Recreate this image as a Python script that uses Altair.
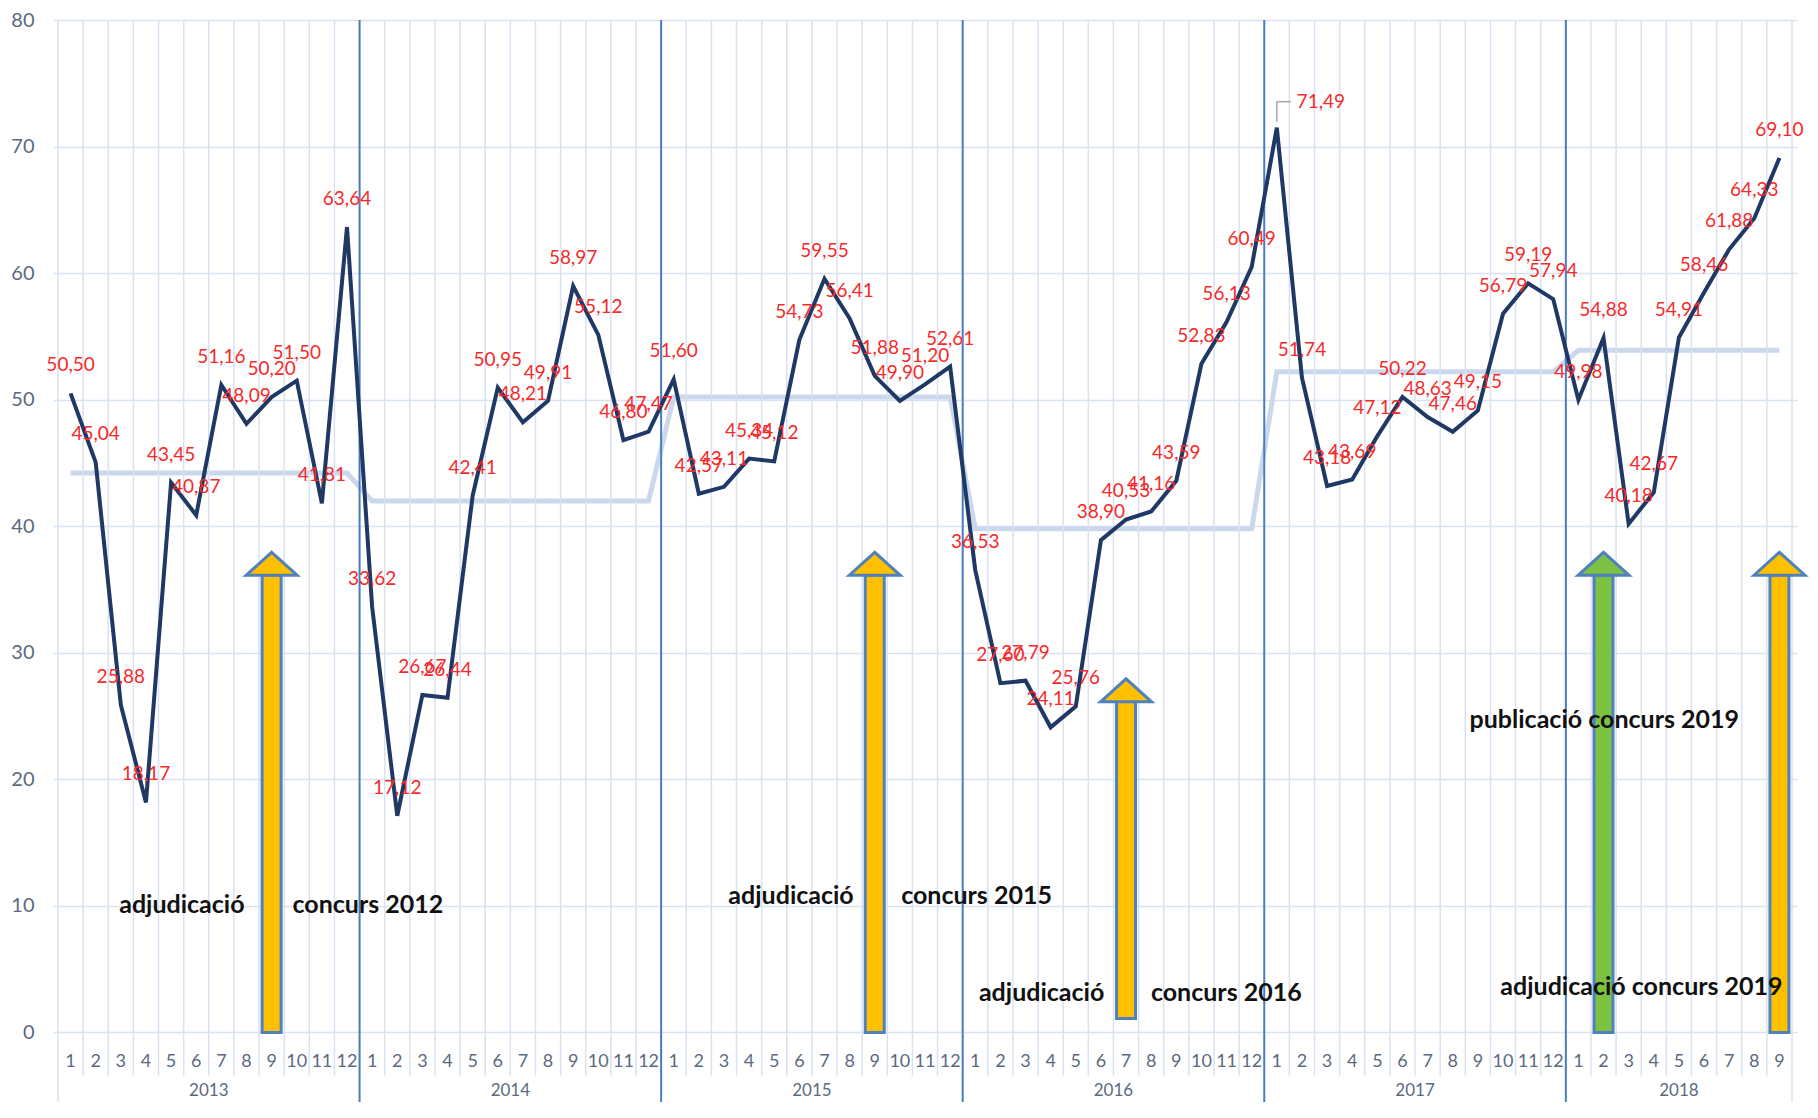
import altair as alt
import pandas as pd

# ---------------- data ----------------
years = [2013, 2014, 2015, 2016, 2017, 2018]
months_in_year = [12, 12, 12, 12, 12, 9]

values = [
    50.50, 45.04, 25.88, 18.17, 43.45, 40.87, 51.16, 48.09, 50.20, 51.50, 41.81, 63.64,
    33.62, 17.12, 26.67, 26.44, 42.41, 50.95, 48.21, 49.91, 58.97, 55.12, 46.80, 47.47,
    51.60, 42.57, 43.11, 45.34, 45.12, 54.73, 59.55, 56.41, 51.88, 49.90, 51.20, 52.61,
    36.53, 27.60, 27.79, 24.11, 25.76, 38.90, 40.53, 41.16, 43.59, 52.83, 56.13, 60.49,
    71.49, 51.74, 43.18, 43.69, 47.12, 50.22, 48.63, 47.46, 49.15, 56.79, 59.19, 57.94,
    49.98, 54.88, 40.18, 42.67, 54.91, 58.46, 61.88, 64.33, 69.10,
]

year_average = [44.2, 42.0, 50.2, 39.8, 52.2, 53.9]

label_position = ["above"] * 69
label_position[48] = "callout"

arrow_year = [2013, 2015, 2016, 2018, 2018]
arrow_month = [9, 9, 7, 2, 9]
arrow_from = [0.0, 0.0, 1.1, 0.0, 0.0]
arrow_to = [37.9, 37.9, 27.9, 37.9, 37.9]
arrow_fill = ["#FFC000", "#FFC000", "#FFC000", "#7DC142", "#FFC000"]

note_text = ["adjudicació", "concurs 2012", "adjudicació", "concurs 2015",
             "adjudicació", "concurs 2016", "publicació concurs 2019",
             "adjudicació concurs 2019"]
note_x = [5.43, 12.83, 29.67, 37.05, 39.64, 46.99, 62.03, 63.51]
note_y = [10.03, 10.03, 10.77, 10.77, 3.11, 3.11, 24.7, 3.57]

# ---------------- tables ----------------
rows = []
k = 0
for yr, n, avg in zip(years, months_in_year, year_average):
    for m in range(1, n + 1):
        rows.append(dict(idx=k + 1, year=yr, month=m, value=values[k],
                         avg=avg, place=label_position[k]))
        k += 1
df = pd.DataFrame(rows)
n_total = len(df)

start_of_year = {}
acc = 0
for yr, n in zip(years, months_in_year):
    start_of_year[yr] = acc
    acc += n

year_df = pd.DataFrame({
    "year": [str(y) for y in years],
    "center": [start_of_year[y] + (n + 1) / 2 for y, n in zip(years, months_in_year)],
})

sep_df = pd.DataFrame({"x": [start_of_year[y] + 0.5 for y in years[1:]]})

grid_df = pd.DataFrame({"x": [i + 0.5 for i in range(n_total + 1)]})
grid_df["edge"] = (grid_df["x"] == 0.5) | (grid_df["x"] == n_total + 0.5)

arrow_df = pd.DataFrame({
    "idx": [start_of_year[y] + m for y, m in zip(arrow_year, arrow_month)],
    "base": arrow_from,
    "tip": arrow_to,
    "fill": arrow_fill,
})

note_df = pd.DataFrame({"text": note_text, "x": note_x, "y": note_y})

# ---------------- scales / styles ----------------
Y_TOP, Y_BOTTOM = 80, -5.5
xs = alt.Scale(domain=[0.5, n_total + 0.5], nice=False, zero=False)
ys = alt.Scale(domain=[Y_BOTTOM, Y_TOP], nice=False, zero=False)
FONT = "Lato"
AXIS_COL = "#5b6a80"
GRID_COL = "#d9e2f1"

yaxis = alt.Axis(values=list(range(0, 81, 10)), grid=True, gridColor=GRID_COL,
                 gridWidth=1.5, domain=False, ticks=False, labelFontSize=20,
                 labelColor=AXIS_COL, labelFont=FONT, labelPadding=19, title=None)


def X(field):
    return alt.X(field, type="quantitative", scale=xs, axis=None)


def Y(field):
    return alt.Y(field, type="quantitative", scale=ys, axis=yaxis)


# vertical month grid lines
vgrid = alt.Chart(grid_df).transform_calculate(
    top=str(Y_TOP), bot=f"datum.edge ? {Y_BOTTOM} : -3.4"
).mark_rule(color=GRID_COL, strokeWidth=1.5).encode(
    x=X("x"), y=Y("top"), y2="bot:Q",
)

# year separators
seps = alt.Chart(sep_df).transform_calculate(
    top=str(Y_TOP), bot=str(Y_BOTTOM)
).mark_rule(color="#4a7cc0", strokeWidth=2).encode(
    x=X("x"), y=Y("top"), y2="bot:Q",
)

# yearly average line
avg_line = alt.Chart(df).mark_line(color="#cbd8ec", strokeWidth=5).encode(
    x=X("idx"), y=Y("avg"),
)

# arrows
shaft = alt.Chart(arrow_df).transform_calculate(
    top="datum.tip - 1.75"
).mark_bar(size=19, stroke="#4f81bd", strokeWidth=3).encode(
    x=X("idx"), y=Y("base"), y2="top:Q",
    fill=alt.Fill("fill:N", scale=None),
)
head = alt.Chart(arrow_df).transform_calculate(
    mid="datum.tip - 0.87"
).mark_point(shape="M-1,0.45L0,-0.45L1,0.45Z", size=2600, filled=True,
             stroke="#4f81bd", strokeWidth=3, opacity=1).encode(
    x=X("idx"), y=Y("mid"),
    fill=alt.Fill("fill:N", scale=None),
)

# main series
main_line = alt.Chart(df).mark_line(color="#1f3864", strokeWidth=4).encode(
    x=X("idx"), y=Y("value"),
)

lbl_calc = "replace(format(datum.value, '.2f'), '.', ',')"
labels_above = alt.Chart(df).transform_filter(
    "datum.place == 'above'"
).transform_calculate(lbl=lbl_calc).mark_text(
    dy=-28, fontSize=19, font=FONT, color="#f52a2a"
).encode(
    x=X("idx"), y=Y("value"), text="lbl:N",
)
labels_callout = alt.Chart(df).transform_filter(
    "datum.place == 'callout'"
).transform_calculate(lbl=lbl_calc).mark_text(
    dx=44, dy=-26, fontSize=19, font=FONT, color="#f52a2a"
).encode(
    x=X("idx"), y=Y("value"), text="lbl:N",
)
leader_v = alt.Chart(df).transform_filter("datum.place == 'callout'").mark_rule(
    color="#a6a6a6", strokeWidth=1.5, yOffset=-6, y2Offset=-26
).encode(
    x=X("idx"), x2="idx:Q", y=Y("value"), y2="value:Q",
)
leader_h = alt.Chart(df).transform_filter("datum.place == 'callout'").mark_rule(
    color="#a6a6a6", strokeWidth=1.5, yOffset=-26, y2Offset=-26, x2Offset=14
).encode(
    x=X("idx"), x2="idx:Q", y=Y("value"), y2="value:Q",
)

# category axis (months and years)
month_labels = alt.Chart(df).transform_calculate(ly="-2.36").mark_text(
    fontSize=18, font=FONT, color=AXIS_COL
).encode(
    x=X("idx"), y=Y("ly"), text=alt.Text("month:N"),
)
year_labels = alt.Chart(year_df).transform_calculate(ly="-4.6").mark_text(
    fontSize=17, font=FONT, color=AXIS_COL
).encode(
    x=X("center"), y=Y("ly"), text="year:N",
)

notes = alt.Chart(note_df).mark_text(
    fontSize=25, font=FONT, fontWeight="bold", color="#111111"
).encode(
    x=X("x"), y=Y("y"), text="text:N",
)

chart = alt.layer(
    avg_line, vgrid, seps, shaft, head, main_line,
    labels_above, labels_callout, leader_v, leader_h,
    month_labels, year_labels, notes,
).properties(
    width=1744, height=1082,
    padding={"left": 45, "top": 12, "right": 13, "bottom": 0},
    autosize=alt.AutoSizeParams(type="none"),
    background="white",
).configure_view(stroke=None)

chart.save("out.html", embed_options={"renderer": "svg", "actions": False})
